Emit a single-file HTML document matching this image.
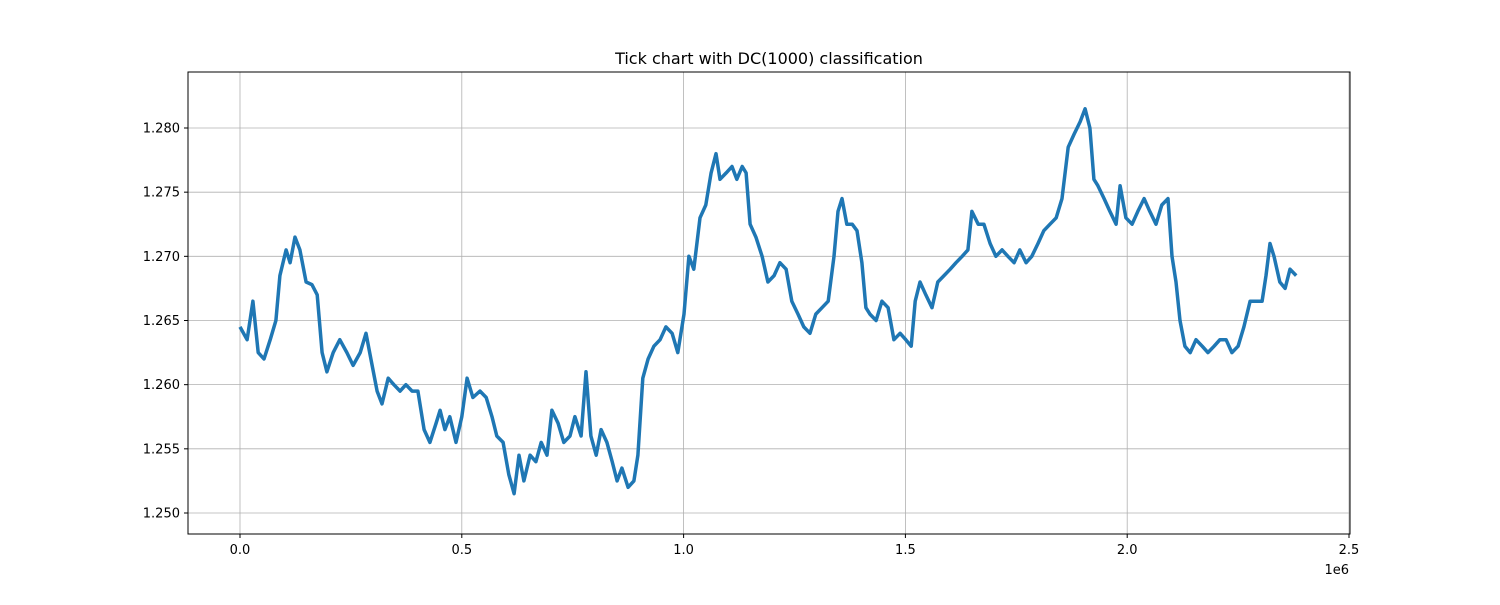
<!DOCTYPE html>
<html><head><meta charset="utf-8"><style>
body{margin:0;background:#fff;font-family:"Liberation Sans","DejaVu Sans",sans-serif}
svg text{font-family:"DejaVu Sans","Liberation Sans",sans-serif}
</style></head><body>
<svg id="chart" width="1500" height="600" xmlns="http://www.w3.org/2000/svg">
<rect width="1500" height="600" fill="#fff"/>
<text x="769" y="64" font-size="16" text-anchor="middle">Tick chart with DC(1000) classification</text>
<g id="grid"></g><g id="series"></g>
<rect x="188" y="72" width="1162" height="462" fill="none" stroke="#000" stroke-width="1"/>
<g id="axes"></g>
<text x="1349" y="574" font-size="13" text-anchor="end">1e6</text>
</svg>
<script>
const xTicks=[0,0.5,1.0,1.5,2.0,2.5];
const xTickLabels=["0.0","0.5","1.0","1.5","2.0","2.5"];
const yTicks=[1.250,1.255,1.260,1.265,1.270,1.275,1.280];
const yTickLabels=["1.250","1.255","1.260","1.265","1.270","1.275","1.280"];
const tickK=[0,16,29,41,54,68,81,90,104,113,124,135,149,162,174,185,196,210,225,241,255,271,284,295,309,320,334,347,361,374,388,401,415,428,442,451,462,473,487,500,512,525,541,555,568,579,593,606,618,629,640,654,667,679,692,703,717,730,744,755,769,780,791,803,814,827,839,850,861,875,888,897,908,920,933,947,960,974,987,1001,1012,1023,1037,1050,1062,1073,1082,1096,1109,1120,1132,1141,1150,1163,1177,1190,1204,1217,1231,1244,1258,1271,1285,1298,1312,1326,1339,1348,1357,1368,1380,1391,1402,1411,1420,1434,1447,1461,1474,1488,1501,1513,1522,1533,1546,1560,1573,1587,1601,1614,1628,1641,1650,1664,1677,1691,1704,1718,1731,1745,1758,1772,1785,1799,1812,1826,1840,1853,1867,1880,1894,1905,1916,1925,1934,1948,1961,1975,1984,1997,2011,2024,2038,2051,2065,2078,2092,2101,2110,2119,2130,2142,2155,2169,2182,2196,2209,2223,2236,2250,2263,2277,2290,2304,2313,2322,2331,2344,2356,2367,2381];
const prices=[1.2645,1.2635,1.2665,1.2625,1.2620,1.2635,1.2650,1.2685,1.2705,1.2695,1.2715,1.2705,1.2680,1.2678,1.2670,
1.2625,1.2610,1.2625,1.2635,1.2625,1.2615,1.2625,1.2640,1.2620,1.2595,1.2585,1.2605,1.2600,1.2595,1.2600,1.2595,1.2595,1.2565,1.2555,1.2570,1.2580,1.2565,1.2575,1.2555,1.2575,1.2605,1.2590,1.2595,1.2590,1.2575,1.2560,1.2555,1.2530,1.2515,1.2545,1.2525,1.2545,1.2540,1.2555,1.2545,1.2580,1.2570,1.2555,1.2560,1.2575,1.2560,1.2610,1.2560,1.2545,1.2565,1.2555,1.2540,1.2525,1.2535,1.2520,1.2525,1.2545,1.2605,1.2620,1.2630,1.2635,1.2645,1.2640,1.2625,1.2655,1.2700,1.2690,1.2730,1.2740,1.2765,1.2780,1.2760,1.2765,1.2770,1.2760,1.2770,1.2765,1.2725,1.2715,1.2700,1.2680,1.2685,1.2695,1.2690,1.2665,1.2655,1.2645,1.2640,1.2655,1.2660,1.2665,1.2700,1.2735,1.2745,1.2725,1.2725,1.2720,1.2695,1.2660,1.2655,1.2650,1.2665,1.2660,1.2635,1.2640,1.2635,1.2630,1.2665,1.2680,1.2670,1.2660,1.2680,1.2685,1.2690,1.2695,1.2700,1.2705,1.2735,1.2725,1.2725,1.2710,1.2700,1.2705,1.2700,1.2695,1.2705,1.2695,1.2700,1.2710,1.2720,1.2725,1.2730,1.2745,1.2785,1.2795,1.2805,1.2815,1.2800,1.2760,1.2755,1.2745,1.2735,1.2725,1.2755,1.2730,1.2725,1.2735,1.2745,1.2735,1.2725,1.2740,1.2745,1.2700,1.2680,1.2650,1.2630,1.2625,1.2635,1.2630,1.2625,1.2630,1.2635,1.2635,1.2625,1.2630,1.2645,1.2665,1.2665,1.2665,1.2685,1.2710,1.2700,1.2680,1.2675,1.2690,1.2685];
const NS="http://www.w3.org/2000/svg";
const X=v=>240+v*443.6/1e6, Y=v=>128+(1.280-v)*12833;
const grid=document.getElementById('grid'),axes=document.getElementById('axes'),ser=document.getElementById('series');
function mk(tag,attrs,parent){const e=document.createElementNS(NS,tag);for(const k in attrs)e.setAttribute(k,attrs[k]);parent.appendChild(e);return e;}
xTicks.forEach((t,i)=>{const x=X(t*1e6);
 const g=mk('line',{x1:x,x2:x,y1:72,y2:534,stroke:'#b0b0b0','stroke-width':0.8},grid);
 
 
 mk('line',{x1:x,x2:x,y1:534,y2:538,stroke:'#000'},axes);
 const tx=mk('text',{x:x,y:554,'font-size':13,'text-anchor':'middle'},axes);tx.textContent=xTickLabels[i];
 
 });
yTicks.forEach((t,i)=>{const y=Y(t);
 const g=mk('line',{x1:188,x2:1350,y1:y,y2:y,stroke:'#b0b0b0','stroke-width':0.8},grid);
 
 
 mk('line',{x1:184,x2:188,y1:y,y2:y,stroke:'#000'},axes);
 const tx=mk('text',{x:180,y:y+4.5,'font-size':13,'text-anchor':'end'},axes);tx.textContent=yTickLabels[i];
 
 });
const n=Math.min(tickK.length,prices.length);
const pts=[];for(let i=0;i<n;i++)pts.push(X(tickK[i]*1000).toFixed(1)+','+Y(prices[i]).toFixed(1));
const line=mk('polyline',{points:pts.join(' '),fill:'none',stroke:'#1f77b4','stroke-width':3.5,'stroke-linejoin':'round'},ser);


</script>
</body></html>
